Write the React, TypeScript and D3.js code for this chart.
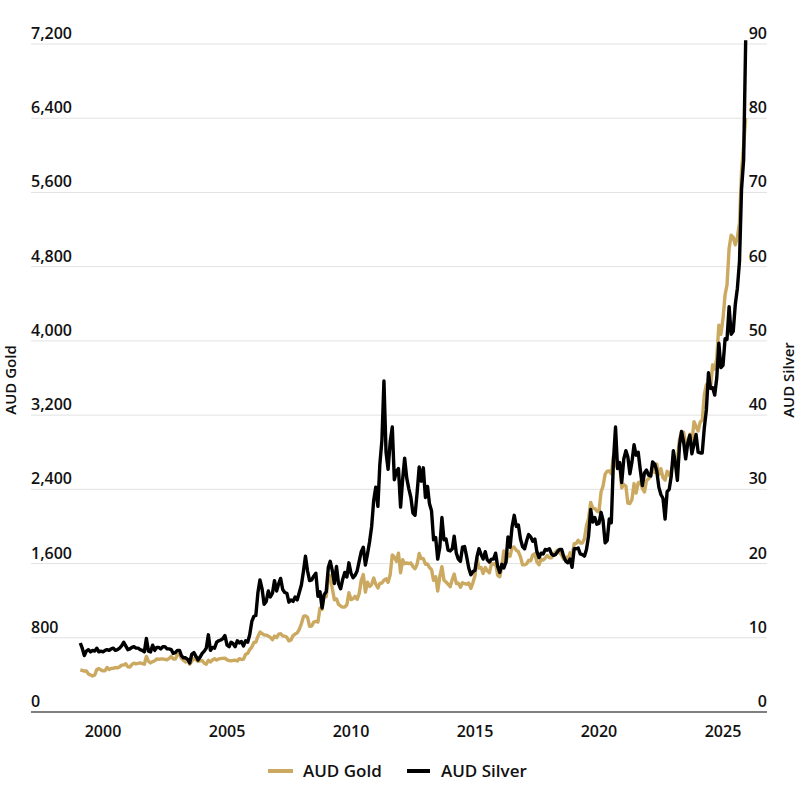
import React from 'react';
import * as d3 from 'd3';

// Month-end prices in AUD, Jan 1999 through Nov 2025
const goldAud = [
  453, 449, 440, 442, 410, 398, 387, 398, 457, 468, 454, 443,
  445, 480, 458, 469, 471, 480, 476, 486, 505, 507, 519, 488,
  484, 513, 527, 518, 524, 529, 522, 515, 598, 547, 529, 543,
  553, 571, 568, 572, 572, 568, 563, 578, 600, 571, 570, 620,
  624, 578, 558, 538, 560, 516, 546, 577, 565, 544, 553, 555,
  526, 516, 558, 539, 561, 574, 559, 573, 576, 578, 581, 562,
  555, 551, 556, 559, 549, 575, 566, 570, 622, 631, 673, 700,
  749, 753, 814, 861, 846, 830, 829, 818, 804, 779, 818, 800,
  840, 845, 821, 817, 805, 767, 777, 824, 840, 853, 890, 951,
  1030, 1037, 1020, 923, 927, 969, 977, 970, 1119, 1106, 1252, 1243,
  1436, 1472, 1328, 1210, 1219, 1160, 1143, 1130, 1132, 1156, 1285, 1212,
  1221, 1247, 1214, 1276, 1420, 1481, 1292, 1400, 1354, 1373, 1444, 1377,
  1336, 1386, 1390, 1420, 1436, 1398, 1480, 1694, 1670, 1625, 1712, 1501,
  1641, 1599, 1606, 1600, 1606, 1567, 1545, 1592, 1708, 1654, 1652, 1593,
  1595, 1557, 1534, 1419, 1458, 1303, 1461, 1567, 1421, 1401, 1377, 1350,
  1431, 1487, 1385, 1388, 1344, 1394, 1383, 1377, 1391, 1332, 1392, 1469,
  1655, 1551, 1558, 1494, 1558, 1522, 1500, 1599, 1593, 1602, 1473, 1457,
  1576, 1736, 1611, 1701, 1680, 1774, 1778, 1741, 1729, 1673, 1587, 1587,
  1598, 1635, 1630, 1693, 1707, 1617, 1586, 1649, 1637, 1660, 1687, 1663,
  1661, 1695, 1723, 1746, 1717, 1689, 1647, 1670, 1642, 1716, 1672, 1814,
  1817, 1852, 1822, 1821, 1866, 2007, 2086, 2259, 2200, 2193, 2166, 2158,
  2372, 2435, 2564, 2595, 2598, 2567, 2758, 2670, 2635, 2673, 2416, 2452,
  2435, 2252, 2247, 2291, 2462, 2360, 2471, 2481, 2411, 2371, 2492, 2516,
  2541, 2629, 2583, 2672, 2559, 2623, 2526, 2499, 2594, 2552, 2600, 2682,
  2731, 2715, 2943, 3011, 3015, 2881, 2924, 2994, 2910, 3128, 3080, 3029,
  3126, 3145, 3420, 3528, 3499, 3487, 3742, 3697, 3812, 4170, 4071, 4241,
  4498, 4602, 4998, 5139, 5115, 5035, 5117, 5272, 5828, 6107, 6400,
];

const silverAud = [
  9.3, 8.6, 7.6, 8.2, 8.4, 8.1, 8.3, 8.2, 8.6, 8.1, 8.2, 8.1,
  8.3, 8.4, 8.3, 8.5, 8.6, 8.3, 8.4, 8.6, 8.9, 9.4, 8.9, 8.4,
  8.5, 8.7, 8.8, 8.6, 8.6, 8.4, 8.3, 8.1, 9.9, 8.2, 8.1, 9.0,
  8.3, 8.7, 8.7, 8.5, 8.8, 8.8, 8.5, 8.5, 8.4, 7.9, 8.0, 8.3,
  8.3, 7.6, 7.3, 7.3, 7.1, 6.6, 7.8, 8.0, 7.5, 7.0, 7.4, 7.9,
  8.2, 8.6, 10.4, 8.3, 8.7, 8.6, 9.4, 9.6, 9.7, 9.9, 10.3, 9.0,
  8.8, 9.4, 9.2, 8.8, 9.6, 9.3, 9.5, 8.9, 9.6, 9.4, 10.4, 12.2,
  12.9, 13.0, 16.1, 17.8, 16.6, 14.5, 14.9, 16.3, 15.5, 16.0, 17.7, 16.3,
  17.3, 18.0, 16.5, 16.1, 16.0, 14.8, 15.1, 14.9, 15.5, 15.1, 16.1, 17.1,
  19.0, 21.0, 19.0, 17.7, 17.8, 18.3, 18.7, 15.6, 16.2, 14.0, 15.8, 16.2,
  19.5, 20.3, 19.0, 17.3, 19.6, 17.3, 16.6, 17.9, 18.8, 18.2, 20.1, 18.7,
  18.1, 18.4, 19.0, 20.3, 21.6, 22.2, 19.8, 21.3, 22.9, 25.0, 28.5, 30.3,
  27.7, 33.3, 36.6, 44.6, 35.0, 32.7, 36.4, 38.4, 31.3, 32.4, 32.8, 27.6,
  31.4, 34.2, 31.5, 30.1, 28.9, 26.8, 26.5, 29.6, 33.0, 31.1, 32.9, 28.9,
  30.4, 28.1, 27.1, 23.2, 23.5, 20.6, 22.2, 26.2, 23.2, 23.3, 21.8, 21.7,
  22.0, 23.7, 21.4, 20.6, 20.3, 22.2, 22.3, 20.9, 19.4, 18.5, 18.9, 19.1,
  21.0, 22.0, 21.2, 20.6, 21.6, 20.5, 20.2, 20.6, 20.6, 21.4, 19.6, 18.8,
  19.9, 19.4, 20.2, 23.6, 22.2, 25.0, 26.5, 25.0, 25.2, 23.3, 22.3, 22.0,
  23.1, 23.9, 23.6, 23.0, 23.3, 21.6, 20.8, 21.4, 21.3, 21.9, 21.8, 22.0,
  21.3, 21.1, 21.2, 21.6, 21.9, 21.9, 20.9, 20.3, 20.1, 20.6, 19.5, 22.0,
  22.0, 22.1, 21.3, 21.2, 21.0, 21.9, 23.7, 27.3, 25.6, 26.2, 25.3, 25.4,
  26.9, 25.8, 22.8, 23.1, 26.0, 25.5, 33.8, 38.4, 32.8, 33.6, 30.9, 34.1,
  35.2, 34.4, 32.1, 33.7, 36.0, 34.6, 35.0, 32.6, 30.5, 32.2, 32.6, 31.9,
  31.8, 33.7, 33.4, 32.5, 30.3, 29.3, 28.8, 26.0, 29.7, 30.0, 31.8, 35.2,
  33.4, 31.2, 35.9, 37.8, 36.4, 34.1, 36.2, 37.3, 34.8, 36.1, 37.4, 35.0,
  34.9, 34.9, 38.3, 40.7, 45.7, 43.6, 43.7, 42.7, 45.0, 49.7, 46.4, 46.7,
  50.3, 50.2, 54.6, 50.9, 51.3, 54.9, 57.1, 60.7, 70.4, 74.4, 90.5,
];

const yearTicks = [2000, 2005, 2010, 2015, 2020, 2025];
const goldTicks = [0, 800, 1600, 2400, 3200, 4000, 4800, 5600, 6400, 7200];
const silverTicks = [0, 10, 20, 30, 40, 50, 60, 70, 80, 90];

const GOLD = '#cba961';
const SILVER = '#000000';
const FONT = '"Open Sans", "DejaVu Sans", sans-serif';

// each value is a month-end close, placed at the first day of the next month
const firstPoint = new Date(1999, 1, 1);
const dates = goldAud.map((_, i) => d3.timeMonth.offset(firstPoint, i));

const App = () => {
  const width = 800;
  const height = 800;
  const gridLeft = 31;
  const gridRight = 767;

  const x = d3.scaleTime().domain([new Date(2000, 0, 1), new Date(2025, 0, 1)]).range([103, 723]);
  const yGold = d3.scaleLinear().domain([0, 7200]).range([712, 44]);
  const ySilver = d3.scaleLinear().domain([0, 90]).range([712, 44]);

  const goldLine = d3.line<number>()
    .x((_, i) => x(dates[i]))
    .y((d) => yGold(d));
  const silverLine = d3.line<number>()
    .x((_, i) => x(dates[i]))
    .y((d) => ySilver(d));

  const fmt = d3.format(',');

  return (
    <svg width={width} height={height} style={{ position: 'absolute', left: 0, top: 0, background: '#fff' }} fontFamily={FONT}>
      <g className="grid">
        {goldTicks.map((t) => (
          <line key={t} x1={gridLeft} x2={gridRight} y1={yGold(t)} y2={yGold(t)}
            stroke={t === 0 ? '#555' : '#e2e2e2'} strokeWidth={t === 0 ? 1.5 : 1} />
        ))}
      </g>
      <g className="axis left" fontSize={16} fill="#111" fontWeight={600}>
        {goldTicks.map((t) => (
          <text key={t} x={gridLeft} y={yGold(t) - 5}>{fmt(t)}</text>
        ))}
      </g>
      <g className="axis right" fontSize={16} fill="#111" fontWeight={600} textAnchor="end">
        {silverTicks.map((t) => (
          <text key={t} x={gridRight} y={ySilver(t) - 5}>{t}</text>
        ))}
      </g>
      <g className="axis x" fontSize={16} fill="#111" fontWeight={600} textAnchor="middle">
        {yearTicks.map((yr) => (
          <text key={yr} x={x(new Date(yr, 0, 1))} y={737}>{yr}</text>
        ))}
      </g>
      <text transform="translate(16, 380) rotate(-90)" textAnchor="middle" fontSize={15} fill="#111" fontWeight={600}>AUD Gold</text>
      <text transform="translate(794, 380) rotate(-90)" textAnchor="middle" fontSize={15} fill="#111" fontWeight={600}>AUD Silver</text>

      <path d={goldLine(goldAud) ?? ''} fill="none" stroke={GOLD} strokeWidth={3.4} strokeLinejoin="round" />
      <path d={silverLine(silverAud) ?? ''} fill="none" stroke={SILVER} strokeWidth={3.4} strokeLinejoin="round" />

      <g className="legend" fontSize={17} fill="#111" fontWeight={600}>
        <line x1={268} x2={293} y1={771} y2={771} stroke={GOLD} strokeWidth={4} />
        <text x={303} y={777}>AUD Gold</text>
        <line x1={407} x2={430} y1={771} y2={771} stroke={SILVER} strokeWidth={4} />
        <text x={441} y={777}>AUD Silver</text>
      </g>
    </svg>
  );
};

export default App;
